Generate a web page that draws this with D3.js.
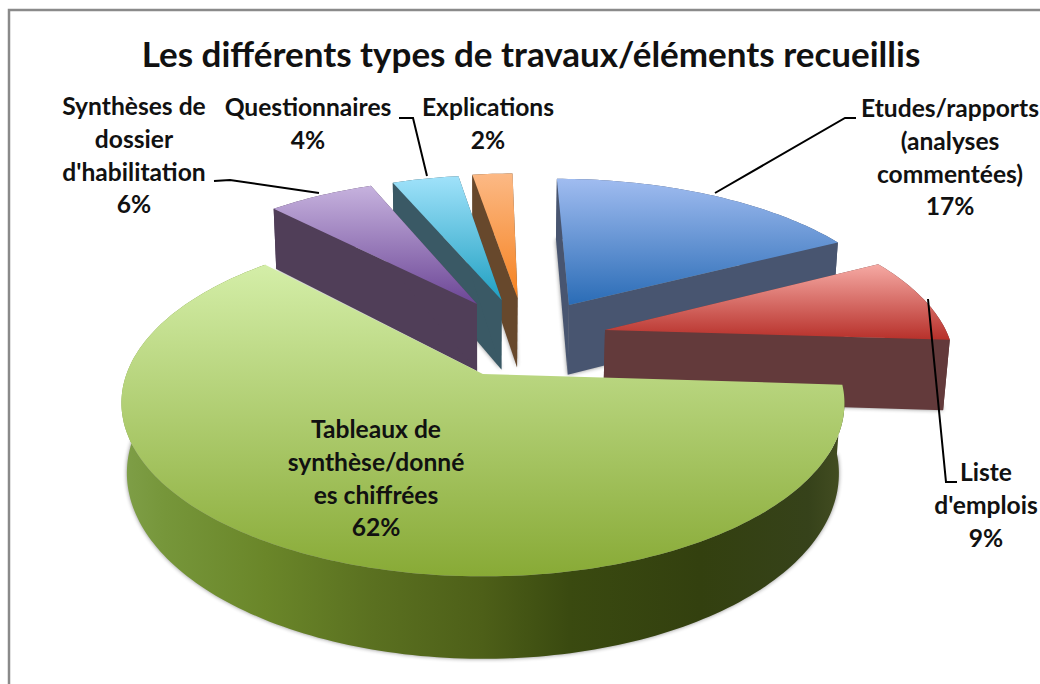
<!DOCTYPE html>
<html lang="fr">
<head>
  <meta charset="UTF-8">
  <title>Les différents types de travaux/éléments recueillis</title>
  <script src="https://d3js.org/d3.v7.min.js"></script>
  <style>
    html, body { margin: 0; padding: 0; background: #fff; overflow: hidden; }
    svg { display: block; }
    text { font-family: Lato, "Open Sans", sans-serif; fill: #111; text-anchor: middle; }
    .title { font-size: 35px; font-weight: 700; }
    .label { font-size: 24.6px; font-weight: 700; }
    .leader { fill: none; stroke: #000; stroke-width: 2px; }
  </style>
</head>
<body>
<svg width="1040" height="684"></svg>
<script>
  // data, in chart order (clockwise from 12 o'clock)
  const categories = ["Etudes/rapports (analyses commentées)", "Liste d'emplois", "Tableaux de synthèse/données chiffrées",
    "Synthèses de dossier d'habilitation", "Questionnaires", "Explications"];
  const values = [17.4, 8.6, 62, 6, 3.75, 2.25];
  const labelLines = [
    ["Etudes/rapports", "(analyses", "commentées)"],
    ["Liste", "d'emplois"],
    ["Tableaux de", "synthèse/donné", "es chiffrées"],
    ["Synthèses de", "dossier", "d'habilitation"],
    ["Questionnaires"],
    ["Explications"]
  ];

  // layout, kept apart from the data
  const title = "Les différents types de travaux/éléments recueillis";
  const labelPos = [[950, 117], [986, 481], [376, 438], [134, 115], [308, 116], [488, 116]];
  const lineHeight = 32.8;
  const leaders = [
    [[715, 193], [845, 118], [856, 118]],
    [[928, 299], [946, 482], [957, 482]],
    null,
    [[319, 193], [230, 180], [214, 181]],
    [[427, 176], [413, 118], [399, 118]],
    null
  ];
  // how far each slice is pulled out on the pie plane (x right, z to the back)
  const explode = [[0.268, 0.4345], [0.367, 0.2675], [0.008, -0.006], [-0.009, 0.441], [0.0656, 0.469], [0.114, 0.4826]];
  // wall height per slice, the pulled out ones read a little taller
  const wallHeight = [75, 73, 68.5, 72, 75, 75];
  const drawOrder = [0, 1, 5, 4, 3, 2];

  const topColors = [
    ["#a0bcf0", "#2a6cb6"], ["#f6aaa4", "#b7302a"], ["#d4eea8", "#88aa36"],
    ["#c6b2de", "#6c4696"], ["#a0e2fa", "#20a0c2"], ["#fcb985", "#f58220"]
  ];
  const wallColors = ["#485570", "#633a3b", "#4c5f1a", "#503e58", "#3a5965", "#67482c"];
  const greenWall = [[0, "#7f9f48"], [0.06, "#76963a"], [0.2, "#6a8629"], [0.35, "#5a7020"], [0.5, "#4d5f18"],
    [0.62, "#3a4a10"], [0.8, "#33400f"], [0.95, "#36421a"], [1, "#444e22"]];

  const svg = d3.select("svg");
  const defs = svg.append("defs");
  defs.append("filter").attr("id", "soft")
    .attr("x", "-10%").attr("y", "-10%").attr("width", "120%").attr("height", "120%")
    .append("feGaussianBlur").attr("stdDeviation", 2);

  // perspective view of the pie plane
  const cx = 480, cy = 373, R = 356, tilt = 168, fall = 0.168, taper = 0.015;
  function project(x, z, h) {
    const w = 1 + fall * z + taper * (h ? 1 : 0);
    return [cx + R * x / w, cy + (-tilt * z + h) / (1 + fall * z)];
  }

  const arcs = d3.pie().sort(null).value(d => d)(values);
  const line = d3.line();

  function rim(a, i, h) {
    const [ox, oz] = explode[i];
    const steps = Math.max(2, Math.ceil((a.endAngle - a.startAngle) / 0.02));
    return d3.range(steps + 1).map(s => {
      const t = a.startAngle + (a.endAngle - a.startAngle) * s / steps;
      return project(ox + Math.sin(t), oz + Math.cos(t), h);
    });
  }
  function spoke(a, angle, i) {
    const [ox, oz] = explode[i];
    const ex = ox + Math.sin(angle), ez = oz + Math.cos(angle);
    const h = wallHeight[i];
    return [project(ox, oz, 0), project(ex, ez, 0), project(ex, ez, h), project(ox, oz, h)];
  }
  const closed = pts => line(pts) + "Z";

  arcs.forEach((a, i) => {
    const g = defs.append("linearGradient").attr("id", "top" + i)
      .attr("x1", 0).attr("y1", 0).attr("x2", 0).attr("y2", 1);
    g.append("stop").attr("offset", 0).attr("stop-color", topColors[i][0]);
    g.append("stop").attr("offset", 1).attr("stop-color", topColors[i][1]);
  });
  const gw = defs.append("linearGradient").attr("id", "greenWall")
    .attr("x1", 0).attr("y1", 0).attr("x2", 1).attr("y2", 0);
  greenWall.forEach(s => gw.append("stop").attr("offset", s[0]).attr("stop-color", s[1]));

  // chart frame, runs off the right and bottom of the picture
  svg.append("rect").attr("x", 9).attr("y", 10).attr("width", 1100).attr("height", 760)
    .attr("fill", "#fff").attr("stroke", "#8a8a8a").attr("stroke-width", 2.5);

  svg.append("text").attr("class", "title").attr("x", 531).attr("y", 67).text(title);

  drawOrder.forEach(i => {
    const a = arcs[i];
    const outer = rim(a, i, 0), under = rim(a, i, wallHeight[i]);
    const apexTop = project(explode[i][0], explode[i][1], 0);
    const apexLow = project(explode[i][0], explode[i][1], wallHeight[i]);
    const g = svg.append("g");

    // soft shadow from the underside of the slice
    g.append("path").attr("d", closed([apexLow, ...under]))
      .attr("fill", "#000").attr("opacity", 0.45).attr("filter", "url(#soft)");

    const wallFill = i === 2 ? "url(#greenWall)" : wallColors[i];
    g.append("path").attr("d", closed([...outer, ...under.slice().reverse()])).attr("fill", wallFill);
    if (i !== 2) {
      g.append("path").attr("d", closed(spoke(a, a.startAngle, i))).attr("fill", wallColors[i]);
      g.append("path").attr("d", closed(spoke(a, a.endAngle, i))).attr("fill", wallColors[i]);
    }
    g.append("path").attr("d", closed([apexTop, ...outer])).attr("fill", `url(#top${i})`);
  });

  leaders.forEach(pts => {
    if (pts) svg.append("path").attr("class", "leader").attr("d", line(pts));
  });

  labelLines.forEach((lines, i) => {
    const t = svg.append("text").attr("class", "label");
    [...lines, d3.format(".0f")(values[i]) + "%"].forEach((s, k) => {
      t.append("tspan").attr("x", labelPos[i][0]).attr("y", labelPos[i][1] + k * lineHeight).text(s);
    });
  });
</script>
</body>
</html>
